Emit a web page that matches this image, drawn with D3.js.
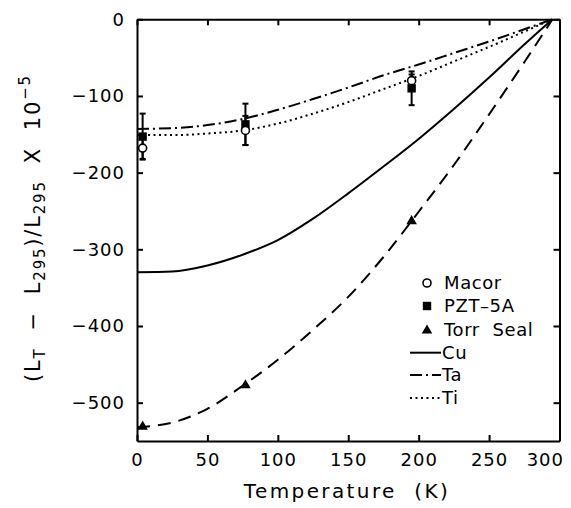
<!DOCTYPE html>
<html>
<head>
<meta charset="utf-8">
<script src="https://cdn.jsdelivr.net/npm/d3@7"></script>
<style>
  body { margin: 0; background: #fff; }
  svg { display: block; font-family: "DejaVu Sans", sans-serif; }
</style>
</head>
<body>
<svg id="chart" width="571" height="508"></svg>
<script>
// curve temperatures (K) and values (x 10^-5)
const curveT = [0, 25, 50, 75, 100, 125, 150, 175, 200, 225, 250, 275, 295];
const cuVals = [-330, -329, -321, -307, -288, -260, -227, -192, -156, -117, -76, -33, 0];
const taVals = [-143, -142, -138, -130, -118, -104, -89, -73, -59, -44, -29, -13, 0];
const tiVals = [-151, -151, -149, -145, -136, -123, -108, -91, -74, -55, -36, -16, 0];
const torrVals = [-532, -526, -508, -478, -444, -405, -362, -310, -251, -190, -124, -56, 0];

// measured points
const pointT = [4, 77, 195];
const macorVals = [-168, -145, -80];
const macorErr = [14, 19, 8];
const pztVals = [-153, -137, -90];
const pztErr = [30, 27, 22];
const torrPts = [-530, -476, -262];

const xTicks = [0, 50, 100, 150, 200, 250, 300];
const yTicks = [0, -100, -200, -300, -400, -500];

const svg = d3.select('#chart');
const x = d3.scaleLinear().domain([0, 300]).range([137, 559.5]);
const y = d3.scaleLinear().domain([-550, 0]).range([441, 19.3]);

const fmt = d => (d < 0 ? '\u2212' + Math.abs(d) : '' + d);

// axes with inward ticks
const xAxis = svg.append('g').attr('transform', 'translate(0,441)')
  .call(d3.axisBottom(x).tickValues(xTicks).tickSize(-6).tickSizeOuter(0).tickPadding(12).tickFormat(fmt));
svg.append('g').attr('transform', 'translate(0,19.3)')
  .call(d3.axisTop(x).tickValues(xTicks).tickSize(-6).tickSizeOuter(0).tickFormat(''));
svg.append('g').attr('transform', 'translate(137,0)')
  .call(d3.axisLeft(y).tickValues(yTicks).tickSize(-6).tickSizeOuter(0).tickPadding(12).tickFormat(fmt));
svg.append('g').attr('transform', 'translate(559.5,0)')
  .call(d3.axisRight(y).tickValues(yTicks).tickSize(-6).tickSizeOuter(0).tickFormat(''));

svg.selectAll('.domain').attr('stroke', '#000').attr('stroke-width', 2);
svg.selectAll('.tick line').attr('stroke', '#000').attr('stroke-width', 2);
svg.selectAll('.tick text').attr('font-size', 18).attr('fill', '#000')
  .attr('font-family', '"DejaVu Sans", sans-serif').attr('letter-spacing', 1);
// last x label is pulled inside the frame
xAxis.selectAll('.tick text').filter(d => d === 300)
  .attr('text-anchor', 'end').attr('dx', 4);

// curves
const line = vals => d3.line()
  .x((d, i) => x(curveT[i]))
  .y(d => y(d))
  .curve(d3.curveMonotoneX)(vals);

const curves = [
  { vals: cuVals, dash: null },
  { vals: taVals, dash: '12,4,2,4' },
  { vals: tiVals, dash: '2,3.5' },
  { vals: torrVals, dash: '13,8' }
];
curves.forEach(c => {
  svg.append('path').attr('d', line(c.vals))
    .attr('fill', 'none').attr('stroke', '#000').attr('stroke-width', 2)
    .attr('stroke-dasharray', c.dash);
});

// error bars
function errBars(vals, errs) {
  vals.forEach((v, i) => {
    const cx = x(pointT[i]);
    svg.append('line').attr('x1', cx).attr('x2', cx)
      .attr('y1', y(v + errs[i])).attr('y2', y(v - errs[i]))
      .attr('stroke', '#000').attr('stroke-width', 2);
    [v + errs[i], v - errs[i]].forEach(e => {
      svg.append('line').attr('x1', cx - 3).attr('x2', cx + 3)
        .attr('y1', y(e)).attr('y2', y(e))
        .attr('stroke', '#000').attr('stroke-width', 2);
    });
  });
}
errBars(pztVals, pztErr);
errBars(macorVals, macorErr);

const tri = d3.symbol().type(d3.symbolTriangle).size(48);

pztVals.forEach((v, i) => {
  svg.append('rect').attr('x', x(pointT[i]) - 4.2).attr('y', y(v) - 4.2)
    .attr('width', 8.4).attr('height', 8.4).attr('fill', '#000');
});
macorVals.forEach((v, i) => {
  svg.append('circle').attr('cx', x(pointT[i])).attr('cy', y(v)).attr('r', 4)
    .attr('fill', '#fff').attr('stroke', '#000').attr('stroke-width', 1.6);
});
torrPts.forEach((v, i) => {
  svg.append('path').attr('d', tri)
    .attr('transform', `translate(${x(pointT[i])},${y(v) + 1})`).attr('fill', '#000');
});

// legend
const legend = svg.append('g').attr('font-size', 18).attr('letter-spacing', 0.6);
const legY = [283, 306, 329.5, 352.7, 375, 398];
const legNames = ['Macor', 'PZT\u2013' + '5A', 'Torr  Seal', 'Cu', 'Ta', 'Ti'];
legend.append('circle').attr('cx', 427).attr('cy', legY[0]).attr('r', 4)
  .attr('fill', '#fff').attr('stroke', '#000').attr('stroke-width', 1.6);
legend.append('rect').attr('x', 422.8).attr('y', legY[1] - 4.2)
  .attr('width', 8.4).attr('height', 8.4).attr('fill', '#000');
legend.append('path').attr('d', tri)
  .attr('transform', `translate(427,${legY[2] + 1})`).attr('fill', '#000');
[null, '12,4,2,4', '2,3.5'].forEach((dash, i) => {
  legend.append('line').attr('x1', 410).attr('x2', 441)
    .attr('y1', legY[3 + i]).attr('y2', legY[3 + i])
    .attr('stroke', '#000').attr('stroke-width', 2).attr('stroke-dasharray', dash);
});
legNames.forEach((n, i) => {
  legend.append('text').attr('x', i < 3 ? 444 : 442).attr('y', legY[i])
    .attr('dy', '0.36em').attr('xml:space', 'preserve').text(n);
});

// axis titles
svg.append('text').attr('x', 347).attr('y', 498).attr('text-anchor', 'middle')
  .attr('font-size', 20).attr('letter-spacing', 2.4).attr('xml:space', 'preserve')
  .text('Temperature  (K)');

const yl = svg.append('text').attr('transform', 'translate(40,228) rotate(-90)')
  .attr('text-anchor', 'middle').attr('font-size', 21).attr('letter-spacing', 1.8)
  .attr('xml:space', 'preserve');
yl.append('tspan').text('(L');
yl.append('tspan').attr('font-size', 15).attr('dy', 5).text('T');
yl.append('tspan').attr('dy', -5).text('  \u2212  L');
yl.append('tspan').attr('font-size', 15).attr('dy', 5).text('295');
yl.append('tspan').attr('dy', -5).text(')/L');
yl.append('tspan').attr('font-size', 15).attr('dy', 5).text('295');
yl.append('tspan').attr('dy', -5).text('  X  10');
yl.append('tspan').attr('font-size', 15).attr('dy', -10).text('\u22125');
</script>
</body>
</html>
